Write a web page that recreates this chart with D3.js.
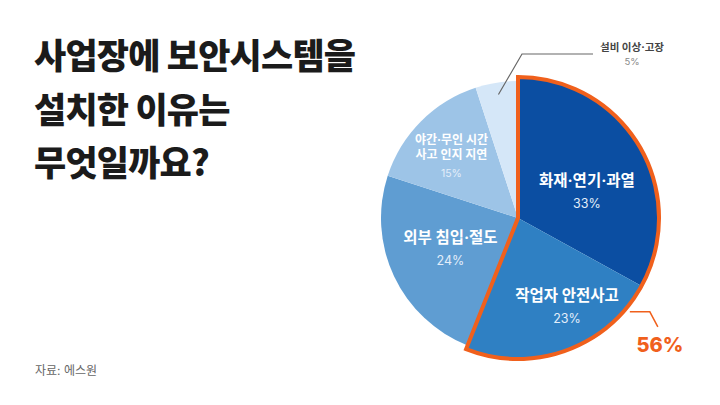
<!DOCTYPE html>
<html><head><meta charset="utf-8">
<script src="https://cdn.jsdelivr.net/npm/d3@7"></script>
<style>
html,body{margin:0;padding:0;background:#fff;}
svg{display:block;font-family:Inter,"Noto Sans CJK KR","Noto Sans",sans-serif;}
</style></head>
<body>
<svg id="chart" width="720" height="405"></svg>
<script>
// ---- data ----
const categories = ["화재·연기·과열", "작업자 안전사고", "외부 침입·절도", "야간·무인 시간\n사고 인지 지연", "설비 이상·고장"];
const values = [33, 23, 24, 15, 5];
const highlighted = [true, true, false, false, false];
const highlightTotal = "56%";
const titleLines = ["사업장에 보안시스템을", "설치한 이유는", "무엇일까요?"];
const sourceText = "자료: 에스원";

// ---- layout / style ----
const W = 720, H = 405;
const cx = 518, cy = 218, R = 137, RH = 141;
const colors = ["#0b4ea2", "#2f80c3", "#5f9dd2", "#9dc4e7", "#d5e7f8"];
const orange = "#f0601c";
// label placement (polar: angle in degrees clockwise from top, radius) + font sizes
const labelLayout = [
  {a: 68.6, r: 74, fs: 15.5, ps: 12.5},
  {a: 151, r: 101, fs: 15.5, ps: 12.5},
  {a: 246, r: 74, fs: 15.5, ps: 12.5},
  {a: 313, r: 91, fs: 12, ps: 10.5},
];

const svg = d3.select("#chart");
svg.append("rect").attr("width", W).attr("height", H).attr("fill", "#fff");

// title
const title = svg.append("text").attr("x", 34).attr("fill", "#1b1b1b")
  .attr("font-family", "'Noto Sans CJK KR', sans-serif")
  .attr("font-size", 35).attr("font-weight", 900).attr("letter-spacing", "-0.8px");
titleLines.forEach((t, i) => {
  title.append("tspan").attr("x", 34).attr("y", 69 + i * 53.5).text(t);
});

// source
svg.append("text").attr("x", 35).attr("y", 375).attr("font-size", 12)
  .attr("fill", "#666").text(sourceText);

// pie
const pie = d3.pie().sort(null).value(d => d)(values);
const g = svg.append("g").attr("transform", `translate(${cx},${cy})`);
const arcN = d3.arc().innerRadius(0).outerRadius(R);
const arcH = d3.arc().innerRadius(0).outerRadius(RH);

g.selectAll("path.slice").data(pie).join("path")
  .attr("class", "slice")
  .attr("d", (d, i) => highlighted[i] ? arcH(d) : arcN(d))
  .attr("fill", (d, i) => colors[i]);

// highlight outline
const hl = pie.filter((d, i) => highlighted[i]);
const hlArc = {startAngle: d3.min(hl, d => d.startAngle), endAngle: d3.max(hl, d => d.endAngle)};
g.append("path").attr("d", arcH(hlArc)).attr("fill", "none")
  .attr("stroke", orange).attr("stroke-width", 4).attr("stroke-linejoin", "miter");

// inner labels
const rad = a => a * Math.PI / 180;
labelLayout.forEach((L, i) => {
  const x = Math.sin(rad(L.a)) * L.r, y = -Math.cos(rad(L.a)) * L.r;
  const lines = categories[i].split("\n");
  const lh = L.fs * 1.2;
  const t = g.append("text").attr("text-anchor", "middle").attr("fill", "#fff");
  const total = lines.length * lh + L.ps * 1.45;
  let y0 = y - total / 2 + L.fs * 0.85;
  lines.forEach((ln, k) => {
    t.append("tspan").attr("x", x).attr("y", y0 + k * lh)
      .attr("font-size", L.fs).attr("font-weight", 700).text(ln);
  });
  t.append("tspan").attr("x", x).attr("y", y0 + (lines.length - 1) * lh + L.ps * 1.75)
    .attr("font-size", L.ps).attr("font-weight", 400).attr("fill", "#e3eefa")
    .text(values[i] + "%");
});

// outer label for small slice
const small = pie[4];
const mid = (small.startAngle + small.endAngle) / 2;
const p0 = [Math.sin(mid) * 125, -Math.cos(mid) * 125];
const p1 = [4, -164];
const p2 = [75, -164];
g.append("polyline").attr("points", [p0, p1, p2].map(p => p.join(",")).join(" "))
  .attr("fill", "none").attr("stroke", "#666").attr("stroke-width", 1.2);
const st = g.append("text").attr("text-anchor", "middle");
st.append("tspan").attr("x", 114).attr("y", -167).attr("font-size", 10.5)
  .attr("font-weight", 700).attr("fill", "#444").text(categories[4]);
st.append("tspan").attr("x", 114).attr("y", -153).attr("font-size", 9.5)
  .attr("fill", "#888").text(values[4] + "%");

// 56% callout
const aC = rad(130);
const q0 = [Math.sin(aC) * (RH + 5), -Math.cos(aC) * (RH + 5)];
const q1 = [q0[0] + 20, q0[1]];
const q2 = [q1[0] + 8, q1[1] + 15];
g.append("polyline").attr("points", [q0, q1, q2].map(p => p.join(",")).join(" "))
  .attr("fill", "none").attr("stroke", orange).attr("stroke-width", 1.5);
g.append("text").attr("x", q2[0] + 2).attr("y", q2[1] + 25).attr("text-anchor", "middle")
  .attr("font-size", 20).attr("font-weight", 800).attr("fill", orange)
  .text(highlightTotal);
</script>
</body></html>
